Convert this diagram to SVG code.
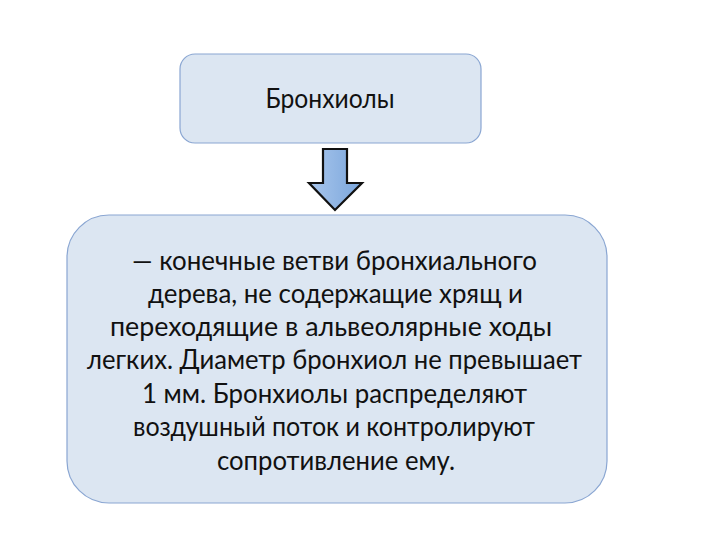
<svg xmlns="http://www.w3.org/2000/svg" width="720" height="540" viewBox="0 0 720 540">
<defs>
<linearGradient id="ag" x1="0" y1="0" x2="1" y2="0">
<stop offset="0" stop-color="#a9c6ec"/>
<stop offset="1" stop-color="#7aa6dc"/>
</linearGradient>
<style>
.box{fill:#dce6f2;stroke:#8aa6d2;stroke-width:1.2}
.t{font-family:Lato,"Open Sans","Liberation Sans",sans-serif;font-size:27px;fill:#111;text-anchor:middle}
</style>
</defs>
<rect width="720" height="540" fill="#ffffff"/>
<g id="node-top">
<rect class="box" x="180" y="54" width="301" height="89" rx="15" ry="15"/>
<text class="t" x="330" y="108" textLength="129" lengthAdjust="spacingAndGlyphs">Бронхиолы</text>
</g>
<g id="connectors">
<path d="M323,149 L347,149 L347,183 L362,183 L335,210 L309,183 L323,183 Z" fill="url(#ag)" stroke="#111" stroke-width="2.2" stroke-linejoin="miter"/>
</g>
<g id="node-bottom">
<rect class="box" x="67" y="215" width="540" height="288" rx="42" ry="42"/>
<text class="t" x="334.5" y="270" textLength="405" lengthAdjust="spacingAndGlyphs">— конечные ветви бронхиального</text>
<text class="t" x="335.5" y="303" textLength="375" lengthAdjust="spacingAndGlyphs">дерева, не содержащие хрящ и</text>
<text class="t" x="331" y="336" textLength="442" lengthAdjust="spacingAndGlyphs">переходящие в альвеолярные ходы</text>
<text class="t" x="334.5" y="369" textLength="495" lengthAdjust="spacingAndGlyphs">легких. Диаметр бронхиол не превышает</text>
<text class="t" x="334.5" y="403" textLength="385" lengthAdjust="spacingAndGlyphs">1 мм. Бронхиолы распределяют</text>
<text class="t" x="334" y="436" textLength="402" lengthAdjust="spacingAndGlyphs">воздушный поток и контролируют</text>
<text class="t" x="336" y="470" textLength="238" lengthAdjust="spacingAndGlyphs">сопротивление ему.</text>
</g>
</svg>
